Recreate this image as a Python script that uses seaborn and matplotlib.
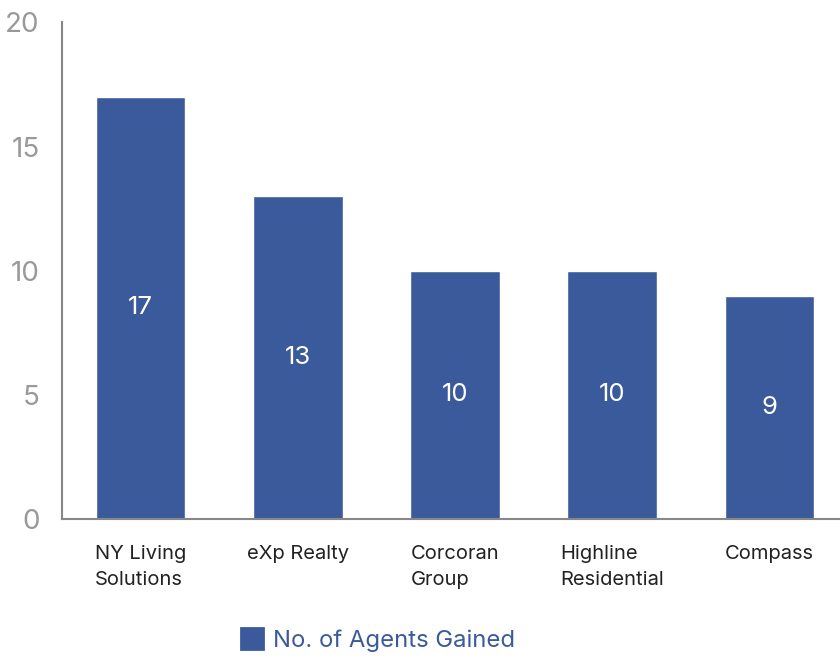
import matplotlib
matplotlib.use("Agg")
import matplotlib.pyplot as plt
import matplotlib.patches as mpatches
import seaborn as sns
import pandas as pd

brokerages = ["NY Living Solutions", "eXp Realty", "Corcoran Group", "Highline Residential", "Compass"]
tick_labels = ["NY Living\nSolutions", "eXp Realty", "Corcoran\nGroup", "Highline\nResidential", "Compass"]
agents_gained = [17, 13, 10, 10, 9]
series_name = "No. of Agents Gained"

bar_color = "#3B5A9C"

sns.set_theme(style="white")
plt.rcParams["font.family"] = ["Inter", "DejaVu Sans"]

df = pd.DataFrame({"Brokerage": brokerages, "Agents": agents_gained})

fig = plt.figure(figsize=(8.4, 6.56), dpi=100)
ax = fig.add_axes([62 / 840, 1 - 519 / 656, 786 / 840, 496.5 / 656])

sns.barplot(data=df, x="Brokerage", y="Agents", color=bar_color, width=0.57,
            saturation=1, ax=ax)

# подписи значений в середине столбцов
for i, v in enumerate(agents_gained):
    ax.text(i, v / 2, str(v), ha="center", va="center", color="white", fontsize=18.5)

ax.set_xlim(-0.5, 4.5)
ax.set_ylim(0, 20)
ax.set_yticks([0, 5, 10, 15, 20])
ax.set_xticks(range(len(tick_labels)))
ax.set_xticklabels(tick_labels, fontsize=14.5, color="#222222", multialignment="left",
                   linespacing=1.62, va="top")
ax.tick_params(axis="y", labelsize=20, labelcolor="#999999", length=0, pad=16)
ax.tick_params(axis="x", length=0, pad=18.5)
ax.set_xlabel("")
ax.set_ylabel("")

sns.despine(ax=ax, top=True, right=True)
for side in ["left", "bottom"]:
    ax.spines[side].set_color("#888888")
    ax.spines[side].set_linewidth(1.5)

handle = mpatches.Patch(facecolor=bar_color, edgecolor=bar_color, linewidth=2,
                        joinstyle="round", label=series_name)
leg = fig.legend(handles=[handle], loc="center left", bbox_to_anchor=(219 / 840, 1 - 640 / 656),
                 frameon=False, fontsize=17.2, handlelength=0.95, handleheight=0.95,
                 handletextpad=0.4)
for t in leg.get_texts():
    t.set_color(bar_color)

plt.savefig("out.png", dpi=100)
